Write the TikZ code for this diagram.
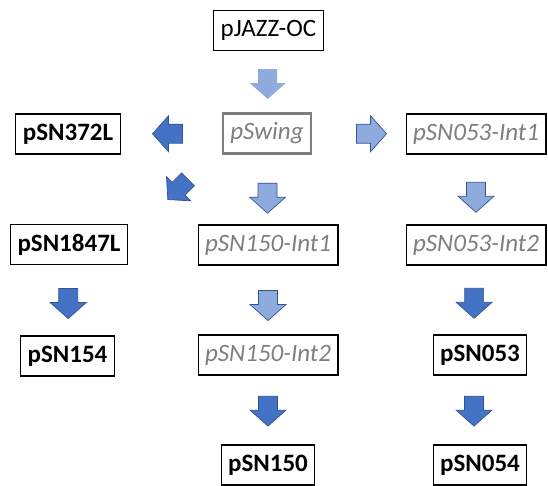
\documentclass[tikz,border=0pt]{standalone}
\usepackage{fontspec}
\setmainfont{Carlito}
\usetikzlibrary{calc}
\definecolor{arrlight}{HTML}{8FAADC}
\definecolor{arrdark}{HTML}{4472C4}
\definecolor{arrline}{HTML}{2F5597}
\definecolor{intgrey}{HTML}{7F7F7F}
\tikzset{
  blockarr/.pic={\path[pic actions] (-9.5,15) -- (9.5,15) -- (9.5,1) -- (18,1)
    -- (0,-15) -- (-18,1) -- (-9.5,1) -- cycle;}
}

\begin{document}
\begin{tikzpicture}[x=1pt,y=1pt,
    plasmid/.style={draw=black,line width=1.1pt,fill=white,minimum height=40pt,
      inner xsep=7pt,font=\fontsize{25}{29}\selectfont\bfseries},
    interm/.style={draw=black,line width=1.1pt,fill=white,minimum height=40pt,
      inner xsep=7pt,text=intgrey,font=\fontsize{25}{29}\selectfont\itshape},
    lightarr/.style={fill=arrlight,draw=arrline,line width=0.7pt},
    darkarr/.style={fill=arrdark,draw=arrline,line width=0.7pt}]
  \useasboundingbox (0,0) rectangle (548,485);
  % plasmids
  \node[plasmid,font=\fontsize{25}{29}\selectfont] (jazz) at (268.5,454.5) {pJAZZ-OC};
  \node[interm,draw=intgrey,line width=2.2pt] (swing) at (267,351.5) {pSwing};
  \node[plasmid] (sn372) at (68,351) {pSN372L};
  \node[interm] (int531) at (476,351) {pSN053-Int1};
  \node[plasmid] (sn1847) at (69,240.5) {pSN1847L};
  \node[interm] (int1501) at (268,240) {pSN150-Int1};
  \node[interm] (int532) at (476,240) {pSN053-Int2};
  \node[plasmid] (sn154) at (67.5,129) {pSN154};
  \node[interm] (int1502) at (268,130) {pSN150-Int2};
  \node[plasmid] (sn053) at (480,130) {pSN053};
  \node[plasmid] (sn150) at (268,20) {pSN150};
  \node[plasmid] (sn054) at (480,20) {pSN054};
  % block arrows
  \pic[fill=arrlight] at ($(jazz)!0.52!(swing)$) {blockarr};
  \pic[darkarr,rotate=-90] at ($(swing)!0.5!(sn372)+(0,0)$) {blockarr};
  \pic[darkarr,rotate=-45,scale=0.95] at ($(swing)!0.45!(sn1847)-(0,6)$) {blockarr};
  \pic[lightarr,rotate=90] at ($(swing)!0.5!(int531)$) {blockarr};
  \pic[lightarr] at ($(swing)!0.58!(int1501)$) {blockarr};
  \pic[lightarr] at ($(int1501)!0.55!(int1502)$) {blockarr};
  \pic[lightarr] at ($(int531)!0.57!(int532)$) {blockarr};
  \pic[darkarr] at ($(sn1847)!0.53!(sn154)$) {blockarr};
  \pic[darkarr] at ($(int532)!0.53!(sn053)-(4,0)$) {blockarr};
  \pic[darkarr] at ($(int1502)!0.51!(sn150)$) {blockarr};
  \pic[darkarr] at ($(sn053)!0.51!(sn054)-(6,0)$) {blockarr};
\end{tikzpicture}
\end{document}
